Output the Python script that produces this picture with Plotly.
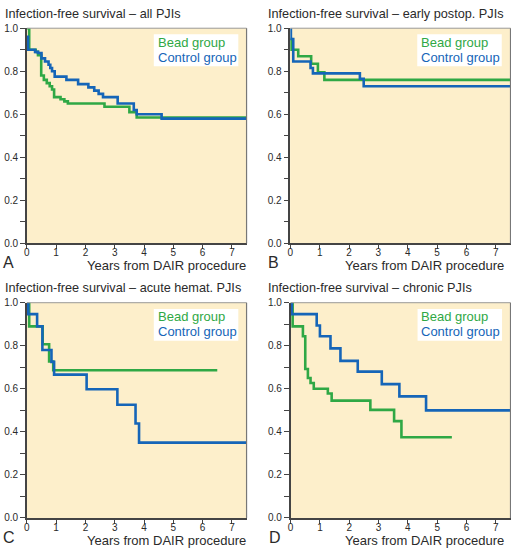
import plotly.graph_objects as go

W, H = 511, 553

# ---------------- data ----------------
titles = ["Infection-free survival \u2013 all PJIs",
          "Infection-free survival \u2013 early postop. PJIs",
          "Infection-free survival \u2013 acute hemat. PJIs",
          "Infection-free survival \u2013 chronic PJIs"]
panel_letters = ["A", "B", "C", "D"]
series_names = ["Bead group", "Control group"]
x_label = "Years from DAIR procedure"
x_ticks = [0, 1, 2, 3, 4, 5, 6, 7]
y_ticks = [0.0, 0.1, 0.2, 0.3, 0.4, 0.5, 0.6, 0.7, 0.8, 0.9, 1.0]
y_ticktext = ["0.0", "", "0.2", "", "0.4", "", "0.6", "", "0.8", "", "1.0"]

# Panel A - all PJIs
a_bead_t = [0, 0.08, 0.3, 0.38, 0.49, 0.58, 0.68, 0.78, 0.86, 0.93, 1.15, 1.28, 1.4, 2.65, 3.5, 3.75, 7.5]
a_bead_s = [1.0, 0.90, 0.89, 0.875, 0.78, 0.76, 0.745, 0.73, 0.715, 0.68, 0.67, 0.66, 0.65, 0.635, 0.61, 0.585, 0.585]
a_ctrl_t = [0, 0.04, 0.28, 0.38, 0.5, 0.62, 0.74, 0.8, 0.86, 0.95, 1.35, 1.75, 2.1, 2.3, 2.45, 2.6, 3.1, 3.65, 3.75, 4.6, 7.5]
a_ctrl_s = [0.96, 0.90, 0.89, 0.885, 0.86, 0.845, 0.83, 0.815, 0.80, 0.775, 0.76, 0.74, 0.725, 0.71, 0.695, 0.68, 0.65, 0.62, 0.60, 0.58, 0.58]

# Panel B - early postop. PJIs
b_bead_t = [0, 0.03, 0.27, 0.71, 0.94, 1.16, 7.5]
b_bead_s = [0.95, 0.90, 0.87, 0.835, 0.795, 0.76, 0.76]
b_ctrl_t = [0, 0.02, 0.1, 0.69, 0.77, 2.37, 2.5, 7.5]
b_ctrl_s = [1.0, 0.95, 0.845, 0.815, 0.79, 0.765, 0.73, 0.73]

# Panel C - acute hematogenous PJIs
c_bead_t = [0, 0.08, 0.54, 0.76, 0.9, 6.5]
c_bead_s = [1.0, 0.89, 0.807, 0.727, 0.686, 0.686]
c_ctrl_t = [0, 0.05, 0.35, 0.53, 0.84, 0.93, 2.04, 3.09, 3.71, 3.83, 7.5]
c_ctrl_s = [1.0, 0.947, 0.89, 0.78, 0.725, 0.666, 0.598, 0.526, 0.439, 0.35, 0.35]

# Panel D - chronic PJIs
d_bead_t = [0, 0.07, 0.42, 0.5, 0.59, 0.68, 0.79, 1.27, 1.4, 2.72, 3.53, 3.78, 5.5]
d_bead_s = [1.0, 0.89, 0.844, 0.692, 0.65, 0.627, 0.60, 0.578, 0.545, 0.502, 0.45, 0.375, 0.375]
d_ctrl_t = [0, 0.04, 0.89, 1.0, 1.36, 1.7, 2.29, 3.11, 3.71, 4.62, 7.5]
d_ctrl_s = [1.0, 0.947, 0.894, 0.844, 0.788, 0.73, 0.68, 0.622, 0.565, 0.5, 0.5]

panels = [
    (a_bead_t, a_bead_s, a_ctrl_t, a_ctrl_s),
    (b_bead_t, b_bead_s, b_ctrl_t, b_ctrl_s),
    (c_bead_t, c_bead_s, c_ctrl_t, c_ctrl_s),
    (d_bead_t, d_bead_s, d_ctrl_t, d_ctrl_s),
]

# ---------------- style ----------------
GREEN = "#2FA845"
BLUE = "#1565B8"
BG = "#FDEFCB"
AXIS = "#444444"
TEXT = "#2a2a2a"
FONT = "Liberation Sans, Arial, sans-serif"

def px(x):
    return x / W

def py(y):
    return 1 - y / H

# plot areas in pixels: (left, right, top, bottom)
areas = [
    (24.0, 245.0, 22.7, 242.7),
    (289.0, 510.5, 22.7, 242.7),
    (24.0, 245.0, 303.3, 523.3),
    (289.3, 510.5, 303.3, 523.3),
]

fig = go.Figure()
layout = dict(
    width=W, height=H,
    margin=dict(l=0, r=0, t=0, b=0, pad=0),
    paper_bgcolor="white",
    showlegend=False,
    font=dict(family=FONT, color=TEXT),
)
annotations = []
shapes = []

for i, (bt, bs, ct, cs) in enumerate(panels):
    n = i + 1
    xa = "x" if n == 1 else f"x{n}"
    ya = "y" if n == 1 else f"y{n}"
    l, r, t, b = areas[i]
    fig.add_trace(go.Scatter(x=bt, y=bs, mode="lines", line=dict(color=GREEN, width=2.6, shape="hv"),
                             xaxis=xa, yaxis=ya, name=series_names[0]))
    fig.add_trace(go.Scatter(x=ct, y=cs, mode="lines", line=dict(color=BLUE, width=2.6, shape="hv"),
                             xaxis=xa, yaxis=ya, name=series_names[1]))
    xkey = "xaxis" if n == 1 else f"xaxis{n}"
    ykey = "yaxis" if n == 1 else f"yaxis{n}"
    layout[xkey] = dict(domain=[px(l), px(r)], anchor=ya, range=[0, 7.5],
                        tickvals=x_ticks, ticks="outside", ticklen=4, tickcolor=AXIS, tickwidth=1,
                        ticklabelstandoff=-5,
                        showline=True, linecolor=AXIS, linewidth=1.5, showgrid=False, zeroline=False,
                        tickfont=dict(size=10, color=TEXT, family=FONT), fixedrange=True)
    layout[ykey] = dict(domain=[py(b), py(t)], anchor=xa, range=[0, 1],
                        tickvals=y_ticks, ticktext=y_ticktext, ticks="outside", ticklen=5,
                        tickcolor=AXIS, tickwidth=1,
                        showline=True, linecolor=AXIS, linewidth=1.5, showgrid=False, zeroline=False,
                        tickfont=dict(size=10, color=TEXT, family=FONT), fixedrange=True)
    # background of plot area
    shapes.append(dict(type="rect", xref="paper", yref="paper", x0=px(l), x1=px(r), y0=py(b), y1=py(t),
                       fillcolor=BG, line=dict(width=0), layer="below"))
    # top / right border
    shapes.append(dict(type="line", xref="paper", yref="paper", x0=px(l), x1=px(r), y0=py(t), y1=py(t),
                       line=dict(color="#9a9a9a", width=1), layer="above"))
    shapes.append(dict(type="line", xref="paper", yref="paper", x0=px(r), x1=px(r), y0=py(t), y1=py(b),
                       line=dict(color="#777777", width=1.2), layer="above"))
    # legend box
    shapes.append(dict(type="rect", xref="paper", yref="paper",
                       x0=px(l + 127.7), x1=px(l + 212.7), y0=py(t + 39), y1=py(t + 6.3),
                       fillcolor="white", line=dict(width=0), layer="above"))
    annotations.append(dict(text=series_names[0], xref="paper", yref="paper", x=px(l + 129.5), y=py(t + 14.2),
                            xanchor="left", yanchor="middle", showarrow=False,
                            font=dict(size=13, color=GREEN, family=FONT)))
    annotations.append(dict(text=series_names[1], xref="paper", yref="paper", x=px(l + 129.5), y=py(t + 29.5),
                            xanchor="left", yanchor="middle", showarrow=False,
                            font=dict(size=13, color=BLUE, family=FONT)))
    # panel title
    annotations.append(dict(text=titles[i], xref="paper", yref="paper", x=px(l - 24.5), y=py(t - 15),
                            xanchor="left", yanchor="middle", showarrow=False,
                            font=dict(size=12.7, color=TEXT, family=FONT)))
    # x label
    annotations.append(dict(text=x_label, xref="paper", yref="paper", x=px(l + 222 if i % 2 == 0 else l + 217),
                            y=py(b + 23), xanchor="right", yanchor="middle", showarrow=False,
                            font=dict(size=13, color=TEXT, family=FONT)))
    # panel letter
    annotations.append(dict(text=panel_letters[i], xref="paper", yref="paper", x=px(l - 26 if i % 2 == 0 else l - 24),
                            y=py(b + 20), xanchor="left", yanchor="middle", showarrow=False,
                            font=dict(size=16, color=TEXT, family=FONT)))

layout["shapes"] = shapes
layout["annotations"] = annotations
layout["plot_bgcolor"] = BG
fig.update_layout(**layout)
fig.write_html("out.html", post_script="document.body.style.margin='0px';",
               config={"displayModeBar": False})
